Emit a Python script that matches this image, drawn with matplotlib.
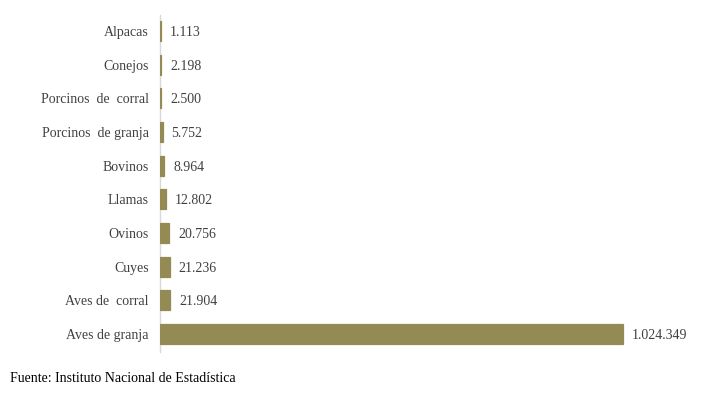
import matplotlib.pyplot as plt

plt.rcParams['font.family'] = ['Liberation Serif', 'DejaVu Serif']

# bottom to top
categorias = ['Aves de granja', 'Aves de  corral', 'Cuyes', 'Ovinos', 'Llamas',
              'Bovinos', 'Porcinos  de granja', 'Porcinos  de  corral', 'Conejos', 'Alpacas']
valores = [1024349, 21904, 21236, 20756, 12802, 8964, 5752, 2500, 2198, 1113]
etiquetas = ['1.024.349', '21.904', '21.236', '20.756', '12.802',
             '8.964', '5.752', '2.500', '2.198', '1.113']

W, H = 720, 398
fig = plt.figure(figsize=(W / 100, H / 100), dpi=100)
ax = fig.add_axes([160 / W, 46 / H, (700 - 160) / W, (352 - 15) / H])

pos = list(range(len(categorias)))
ax.barh(pos, valores, height=0.6, color='#948A54', edgecolor='#948A54',
        linewidth=0.9, zorder=3)

xmax = 1024349 * (700 - 160) / (623 - 160)
ax.set_xlim(0, xmax)
ax.set_ylim(-0.535, 9.475)

# px per data unit on x
pxu = (700 - 160) / xmax
for p, v, t in zip(pos, valores, etiquetas):
    ax.text(v + 9 / pxu, p, t, va='center_baseline', ha='left', fontsize=10, color='#404040')

ax.set_yticks(pos)
ax.set_yticklabels(categorias, fontsize=10, color='#404040')
ax.tick_params(axis='y', length=0, pad=8)
ax.set_xticks([])
for s in ['top', 'right', 'bottom']:
    ax.spines[s].set_visible(False)
ax.spines['left'].set_color('#D9D9D9')
ax.spines['left'].set_linewidth(1)
ax.spines['left'].set_zorder(2)

fig.text(10 / W, 1 - 378 / H, 'Fuente: Instituto Nacional de Estadística',
         fontsize=10, color='black', va='center', ha='left')

plt.savefig('out.png', dpi=100)
